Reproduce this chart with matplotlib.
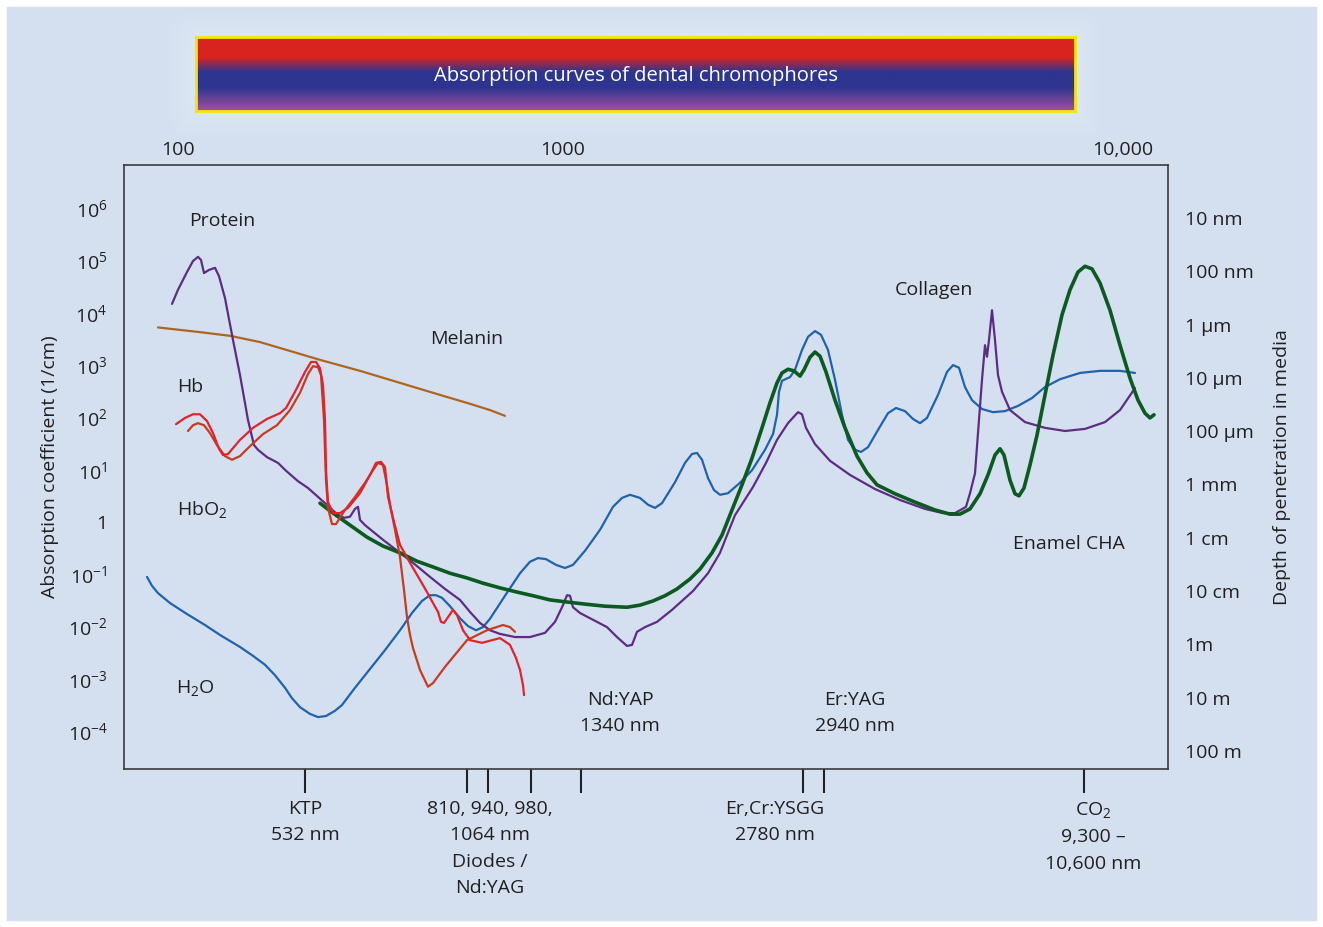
import numpy as np
import matplotlib.pyplot as plt
from matplotlib.colors import LinearSegmentedColormap
from matplotlib.patches import Rectangle, FancyBboxPatch

plt.rcParams['font.family'] = ['Open Sans', 'DejaVu Sans']
plt.rcParams['mathtext.default'] = 'regular'
plt.rcParams['font.size'] = 14

INK = '#231f20'
PANEL = '#d4e0f0'

# x: position along the (schematic) wavelength axis, 0..1044
# second value: log10 of absorption coefficient (1/cm)
water_pts = [(23, -1.05), (28, -1.22), (34, -1.36), (46, -1.55), (63, -1.76), (81, -1.97),
             (96, -2.16), (116, -2.39), (129, -2.56), (141, -2.73), (151, -2.93), (161, -3.17),
             (168, -3.37), (176, -3.54), (186, -3.67), (194, -3.73), (202, -3.71), (211, -3.61),
             (218, -3.50), (231, -3.17), (246, -2.81), (261, -2.45), (276, -2.07), (288, -1.74),
             (298, -1.51), (306, -1.40), (312, -1.40), (318, -1.45), (326, -1.61), (336, -1.84),
             (344, -1.99), (352, -2.07), (359, -2.01), (366, -1.85), (381, -1.41), (396, -0.98),
             (406, -0.76), (414, -0.69), (422, -0.71), (432, -0.82), (441, -0.88), (449, -0.82),
             (461, -0.55), (476, -0.15), (489, 0.29), (498, 0.46), (506, 0.52), (516, 0.46),
             (524, 0.33), (531, 0.27), (538, 0.36), (551, 0.76), (561, 1.13), (568, 1.30),
             (573, 1.32), (578, 1.19), (584, 0.84), (590, 0.61), (596, 0.52), (604, 0.55),
             (616, 0.75), (628, 0.99), (641, 1.38), (649, 1.68), (653, 2.05), (655, 2.49),
             (658, 2.70), (666, 2.77), (671, 2.91), (678, 3.29), (684, 3.54), (691, 3.65),
             (697, 3.58), (704, 3.29), (711, 2.72), (718, 2.05), (724, 1.57), (731, 1.38),
             (737, 1.34), (744, 1.43), (754, 1.76), (764, 2.08), (772, 2.18), (781, 2.12),
             (789, 1.97), (796, 1.89), (803, 1.99), (814, 2.43), (823, 2.87), (829, 3.00),
             (835, 2.95), (841, 2.58), (848, 2.33), (858, 2.16), (869, 2.10), (881, 2.12),
             (894, 2.22), (908, 2.37), (921, 2.58), (936, 2.73), (956, 2.85), (976, 2.89),
             (996, 2.89), (1011, 2.85)]

protein_pts = [(48, 4.17), (54, 4.44), (63, 4.78), (69, 4.99), (74, 5.07), (77, 5.01),
               (80, 4.76), (85, 4.82), (91, 4.86), (95, 4.70), (101, 4.28), (109, 3.48),
               (116, 2.81), (124, 1.95), (130, 1.47), (134, 1.38), (143, 1.24), (154, 1.13),
               (162, 0.98), (174, 0.78), (184, 0.65), (194, 0.48), (204, 0.31), (213, 0.15),
               (220, 0.08), (226, 0.10), (231, 0.25), (234, 0.29), (236, 0.04), (241, -0.06),
               (259, -0.34), (276, -0.59), (289, -0.78), (306, -1.05), (321, -1.28),
               (336, -1.49), (346, -1.72), (356, -1.93), (366, -2.07), (376, -2.14),
               (391, -2.20), (406, -2.20), (421, -2.12), (431, -1.91), (439, -1.59),
               (443, -1.40), (446, -1.41), (449, -1.63), (456, -1.74), (471, -1.89),
               (483, -2.01), (493, -2.20), (503, -2.37), (508, -2.35), (513, -2.10),
               (521, -2.01), (533, -1.91), (548, -1.68), (569, -1.32), (584, -0.98),
               (596, -0.59), (611, 0.13), (629, 0.67), (642, 1.13), (653, 1.57), (664, 1.89),
               (674, 2.10), (678, 2.06), (682, 1.80), (691, 1.49), (706, 1.17), (726, 0.90),
               (751, 0.63), (776, 0.42), (801, 0.25), (819, 0.17), (831, 0.17), (842, 0.29),
               (846, 0.55), (851, 0.93), (854, 1.70), (858, 2.72), (861, 3.38), (863, 3.16),
               (865, 3.48), (868, 4.05), (871, 3.48), (874, 2.81), (878, 2.49), (886, 2.14),
               (901, 1.91), (921, 1.80), (941, 1.74), (961, 1.78), (981, 1.91), (996, 2.14),
               (1011, 2.56)]

melanin_pts = [(34, 3.72), (76, 3.63), (106, 3.56), (136, 3.44), (166, 3.27), (196, 3.10),
               (236, 2.89), (276, 2.66), (316, 2.43), (346, 2.26), (366, 2.14), (381, 2.03)]

hb_pts = [(52, 1.87), (61, 1.99), (69, 2.06), (76, 2.06), (83, 1.93), (89, 1.70), (95, 1.40),
          (99, 1.28), (104, 1.30), (116, 1.57), (129, 1.80), (143, 1.97), (156, 2.08),
          (162, 2.18), (171, 2.49), (181, 2.87), (187, 3.06), (192, 3.06), (196, 2.94),
          (199, 2.62), (201, 1.95), (202, 0.99), (204, 0.38), (209, 0.17), (216, 0.17),
          (224, 0.27), (236, 0.55), (246, 0.90), (252, 1.13), (257, 1.15), (261, 1.05),
          (264, 0.48), (270, 0.00), (276, -0.44), (286, -0.78), (300, -1.24), (314, -1.72),
          (317, -1.91), (320, -1.93), (324, -1.82), (329, -1.68), (333, -1.78), (339, -2.07),
          (346, -2.26), (358, -2.31), (368, -2.26), (376, -2.22), (386, -2.35), (392, -2.60),
          (396, -2.83), (399, -3.12), (400, -3.31)]

hbo2_pts = [(64, 1.74), (69, 1.85), (74, 1.89), (80, 1.85), (86, 1.70), (93, 1.47),
            (101, 1.26), (108, 1.19), (116, 1.26), (126, 1.45), (139, 1.68), (153, 1.85),
            (166, 2.14), (176, 2.47), (184, 2.83), (189, 2.98), (194, 2.96), (197, 2.81),
            (200, 1.95), (202, 0.80), (204, 0.27), (208, -0.04), (212, -0.04), (221, 0.23),
            (231, 0.48), (241, 0.75), (249, 0.99), (254, 1.13), (259, 1.09), (263, 0.71),
            (266, 0.33), (271, -0.15), (276, -0.67), (280, -1.30), (283, -1.82), (286, -2.16),
            (289, -2.41), (296, -2.83), (304, -3.15), (309, -3.08), (321, -2.77), (343, -2.26),
            (363, -2.07), (379, -1.97), (386, -2.01), (391, -2.10)]

enamel_pts = [(196, 0.36), (209, 0.17), (226, -0.06), (243, -0.29), (259, -0.46), (276, -0.59),
              (293, -0.75), (309, -0.86), (326, -0.98), (343, -1.07), (359, -1.17), (376, -1.26),
              (393, -1.34), (409, -1.41), (426, -1.49), (443, -1.53), (461, -1.57), (481, -1.61),
              (503, -1.63), (516, -1.59), (529, -1.51), (541, -1.41), (553, -1.28), (566, -1.09),
              (576, -0.90), (588, -0.59), (598, -0.25), (608, 0.23), (618, 0.71), (628, 1.22),
              (638, 1.80), (646, 2.28), (653, 2.66), (658, 2.85), (664, 2.92), (670, 2.89),
              (676, 2.79), (680, 2.91), (686, 3.15), (691, 3.25), (696, 3.17), (702, 2.87),
              (711, 2.33), (721, 1.80), (733, 1.26), (743, 0.94), (753, 0.71), (771, 0.54),
              (791, 0.38), (811, 0.23), (826, 0.15), (836, 0.15), (846, 0.25), (856, 0.54),
              (864, 0.90), (871, 1.28), (876, 1.40), (880, 1.28), (886, 0.80), (891, 0.54),
              (895, 0.50), (900, 0.65), (906, 1.09), (913, 1.66), (921, 2.43), (929, 3.19),
              (938, 3.96), (946, 4.44), (954, 4.78), (961, 4.89), (968, 4.84), (976, 4.57),
              (986, 4.05), (996, 3.38), (1006, 2.75), (1014, 2.33), (1021, 2.08), (1026, 1.99),
              (1030, 2.05)]

# axis ticks
top_pos = [54, 439, 999]
top_labels = ['100', '1000', '10,000']
laser_pos = [181, 343, 364, 407, 457, 679, 700, 960]
laser_label_x = [181, 366, 651, 969]
laser_labels = ['KTP\n532 nm', '810, 940, 980,\n1064 nm\nDiodes /\nNd:YAG',
                'Er,Cr:YSGG\n2780 nm', 'CO$_2$\n9,300 –\n10,600 nm']
abs_exp = list(range(6, -5, -1))
depth_m = [1e-8, 1e-7, 1e-6, 1e-5, 1e-4, 1e-3, 1e-2, 1e-1, 1, 10, 100]
depth_labels = ['10 nm', '100 nm', '1 µm', '10 µm', '100 µm', '1 mm', '1 cm', '10 cm',
                '1m', '10 m', '100 m']

W, H = 1323, 927
fig = plt.figure(figsize=(W / 100, H / 100), dpi=100, facecolor='white')
fig.patches.append(Rectangle((7 / W, 7 / H), (W - 14) / W, (H - 14) / H,
                             transform=fig.transFigure, color=PANEL, zorder=-10))

# soft light glow behind the banner
for grow in (24, 20, 16, 12, 8, 4):
    fig.patches.append(FancyBboxPatch(
        ((196 - grow) / W, (H - 111 - grow) / H), (879 + 2 * grow) / W, (74 + 2 * grow) / H,
        boxstyle='round,pad=0,rounding_size=0.015', transform=fig.transFigure,
        color='white', alpha=0.045, lw=0, zorder=-9))

# banner with red-blue-violet gradient
bax = fig.add_axes([196 / W, 1 - 111 / H, 879 / W, 74 / H])
cmap = LinearSegmentedColormap.from_list(
    'banner', [(0, '#d9231f'), (0.27, '#d9231f'), (0.47, '#2d3590'),
               (0.68, '#2d3590'), (1.0, '#a64f9f')])
bax.imshow(np.linspace(0, 1, 200)[:, None], cmap=cmap, aspect='auto', extent=(0, 1, 0, 1))
bax.set_xticks([])
bax.set_yticks([])
for s in bax.spines.values():
    s.set_color('#f5e600')
    s.set_linewidth(2)
bax.text(0.5, 0.47, 'Absorption curves of dental chromophores', color='white',
         ha='center', va='center', fontsize=14.5, transform=bax.transAxes)

ax = fig.add_axes([124 / W, 1 - 769 / H, 1044 / W, 604 / H])
ax.set_facecolor(PANEL)
ax.set_yscale('log')
ax.set_xlim(0, 1044)
ax.set_ylim(10 ** -4.723, 10 ** 6.826)


def draw(pts, color, lw=1.6, z=2):
    x, logk = np.array(pts).T
    ax.plot(x, 10 ** logk, color=color, lw=lw, zorder=z, solid_joinstyle='round',
            solid_capstyle='round')


draw(melanin_pts, '#b0651e')
draw(water_pts, '#1f63ad')
draw(protein_pts, '#5e2c83')
draw(enamel_pts, '#0b5a1f', lw=2.6, z=3)
draw(hbo2_pts, '#c93a1e', z=4)
draw(hb_pts, '#e3222b', z=4)

# curve names
names = [('Protein', 98, 5.76), ('Melanin', 343, 3.50), ('Hb', 66, 2.58),
         ('HbO$_2$', 78, 0.23), ('H$_2$O', 71, -3.17), ('Collagen', 810, 4.44),
         ('Enamel CHA', 945, -0.42), ('Nd:YAP\n1340 nm', 496, -3.65),
         ('Er:YAG\n2940 nm', 731, -3.65)]
for txt, x, lk in names:
    ax.text(x, 10 ** lk, txt, ha='center', va='center', color=INK, linespacing=1.6)

for s in ax.spines.values():
    s.set_color('#3a3a3a')
    s.set_linewidth(1.2)

# left: absorption coefficient
ax.set_yticks([10.0 ** e for e in abs_exp])
ax.set_yticklabels(['1' if e == 0 else '$10^{%d}$' % e for e in abs_exp])
ax.yaxis.set_minor_locator(plt.NullLocator())
ax.tick_params(axis='y', length=0, pad=12, labelcolor=INK)
ax.set_ylabel('Absorption coefficient (1/cm)', color=INK, labelpad=6)

# bottom: laser lines
ax.set_xticks(laser_pos)
ax.set_xticklabels([])
ax.tick_params(axis='x', length=17, width=1.5, color='#222222', direction='out')
for x, txt in zip(laser_label_x, laser_labels):
    ax.text(x, -0.051, txt, transform=ax.get_xaxis_transform(), ha='center', va='top',
            color=INK, linespacing=1.6)

# top: wavelength in nm
top = ax.secondary_xaxis('top')
top.set_xticks(top_pos)
top.set_xticklabels(top_labels)
top.tick_params(length=0, pad=4, labelcolor=INK)
top.spines['top'].set_visible(False)

# right: depth of penetration
rax = ax.twinx()
rax.set_yscale('log')
rax.set_ylim(10 ** 2.338, 10 ** -8.994)
rax.set_yticks(depth_m)
rax.set_yticklabels(depth_labels)
rax.yaxis.set_minor_locator(plt.NullLocator())
rax.tick_params(axis='y', length=0, pad=12, labelcolor=INK)
rax.set_ylabel('Depth of penetration in media', color=INK, labelpad=14)
for s in rax.spines.values():
    s.set_visible(False)

fig.savefig('out.png', dpi=100, facecolor='white')
